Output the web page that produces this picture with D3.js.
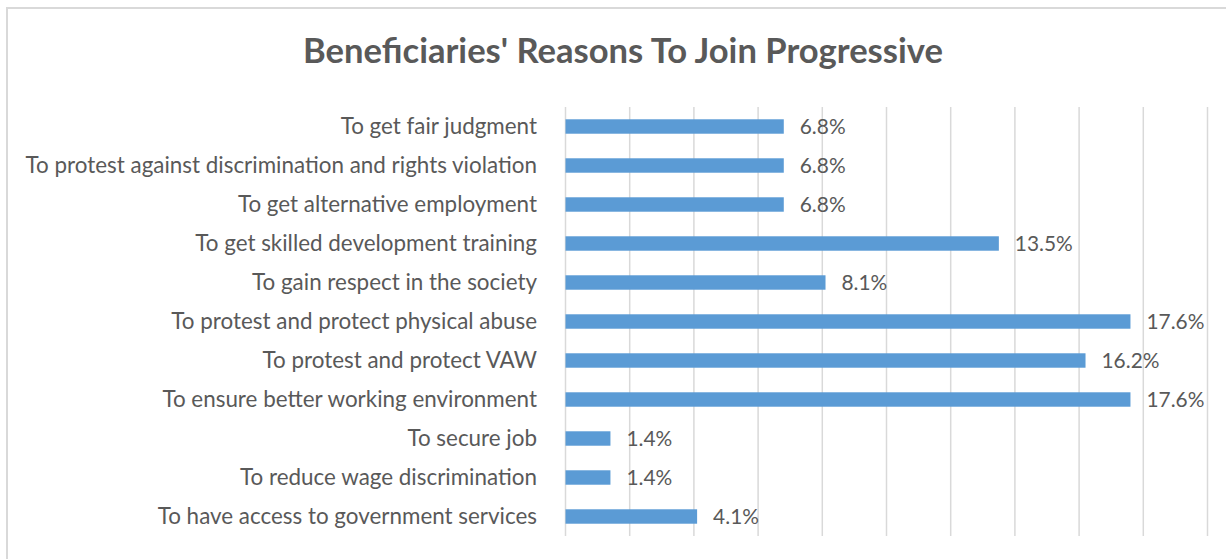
<!DOCTYPE html>
<html><head><meta charset="utf-8">
<script src="https://cdn.jsdelivr.net/npm/d3@7"></script>
<style>
html,body{margin:0;padding:0;background:#fff;}
svg{display:block;}
</style></head>
<body>
<svg id="chart" width="1226" height="559"></svg>
<script>
const titleText = "Beneficiaries' Reasons To Join Progressive";
const categories = [
  "To get fair judgment",
  "To protest against discrimination and rights violation",
  "To get alternative employment",
  "To get skilled development training",
  "To gain respect in the society",
  "To protest and protect physical abuse",
  "To protest and protect VAW",
  "To ensure better working environment",
  "To secure job",
  "To reduce wage discrimination",
  "To have access to government services"
];
const values = [6.8, 6.8, 6.8, 13.5, 8.1, 17.6, 16.2, 17.6, 1.4, 1.4, 4.1];
const xTicks = [0, 2, 4, 6, 8, 10, 12, 14, 16, 18, 20];

const svg = d3.select("#chart");
const W = 1226, H = 559;
const textColor = "#595959";
const fontFam = "Lato, 'Open Sans', sans-serif";

// chart border
svg.append("rect").attr("x", 7).attr("y", 8).attr("width", W + 10).attr("height", H + 10)
  .attr("fill", "#fff").attr("stroke", "#D9D9D9").attr("stroke-width", 2);

const x = d3.scaleLinear().domain([0, 20]).range([565.5, 1207.5]);
const y = d3.scaleBand().domain(categories).range([107, 536]).paddingInner(0.63).paddingOuter(0.315);

// gridlines
svg.append("g").selectAll("line").data(xTicks).join("line")
  .attr("x1", d => x(d)).attr("x2", d => x(d))
  .attr("y1", 107).attr("y2", 536)
  .attr("stroke", "#D9D9D9").attr("stroke-width", 1.5);

// title
const title = svg.append("text").text(titleText)
  .attr("x", 623).attr("y", 63).attr("text-anchor", "middle")
  .attr("font-family", fontFam).attr("font-weight", "bold")
  .attr("font-size", 30).attr("fill", textColor);
{
  const w = title.node().getComputedTextLength();
  title.attr("font-size", 30 * 640 / w);
}

// bars
svg.append("g").selectAll("rect").data(values).join("rect")
  .attr("x", x(0))
  .attr("y", (d, i) => y(categories[i]))
  .attr("width", d => x(d) - x(0))
  .attr("height", y.bandwidth())
  .attr("fill", "#5B9BD5");

// category labels (axis)
const yAxis = d3.axisLeft(y).tickSize(0).tickPadding(0);
const ag = svg.append("g").attr("transform", "translate(537,0)").call(yAxis);
ag.select(".domain").remove();
ag.selectAll("text").attr("fill", textColor).attr("font-family", fontFam).attr("font-size", 19);
{
  const longest = ag.selectAll("text").nodes().reduce((m, n) => Math.max(m, n.getComputedTextLength()), 0);
  ag.selectAll("text").attr("font-size", 19 * 512 / longest);
}

// value labels
const vl = svg.append("g").selectAll("text").data(values).join("text")
  .attr("x", d => x(d) + 16)
  .attr("y", (d, i) => y(categories[i]) + y.bandwidth() / 2)
  .attr("dy", "0.35em")
  .attr("fill", textColor).attr("font-family", fontFam).attr("font-size", 19)
  .text(d => d.toFixed(1) + "%");
{
  const n = vl.nodes()[5];
  const w = n.getComputedTextLength();
  vl.attr("font-size", 19 * 58 / w);
}
</script>
</body></html>
